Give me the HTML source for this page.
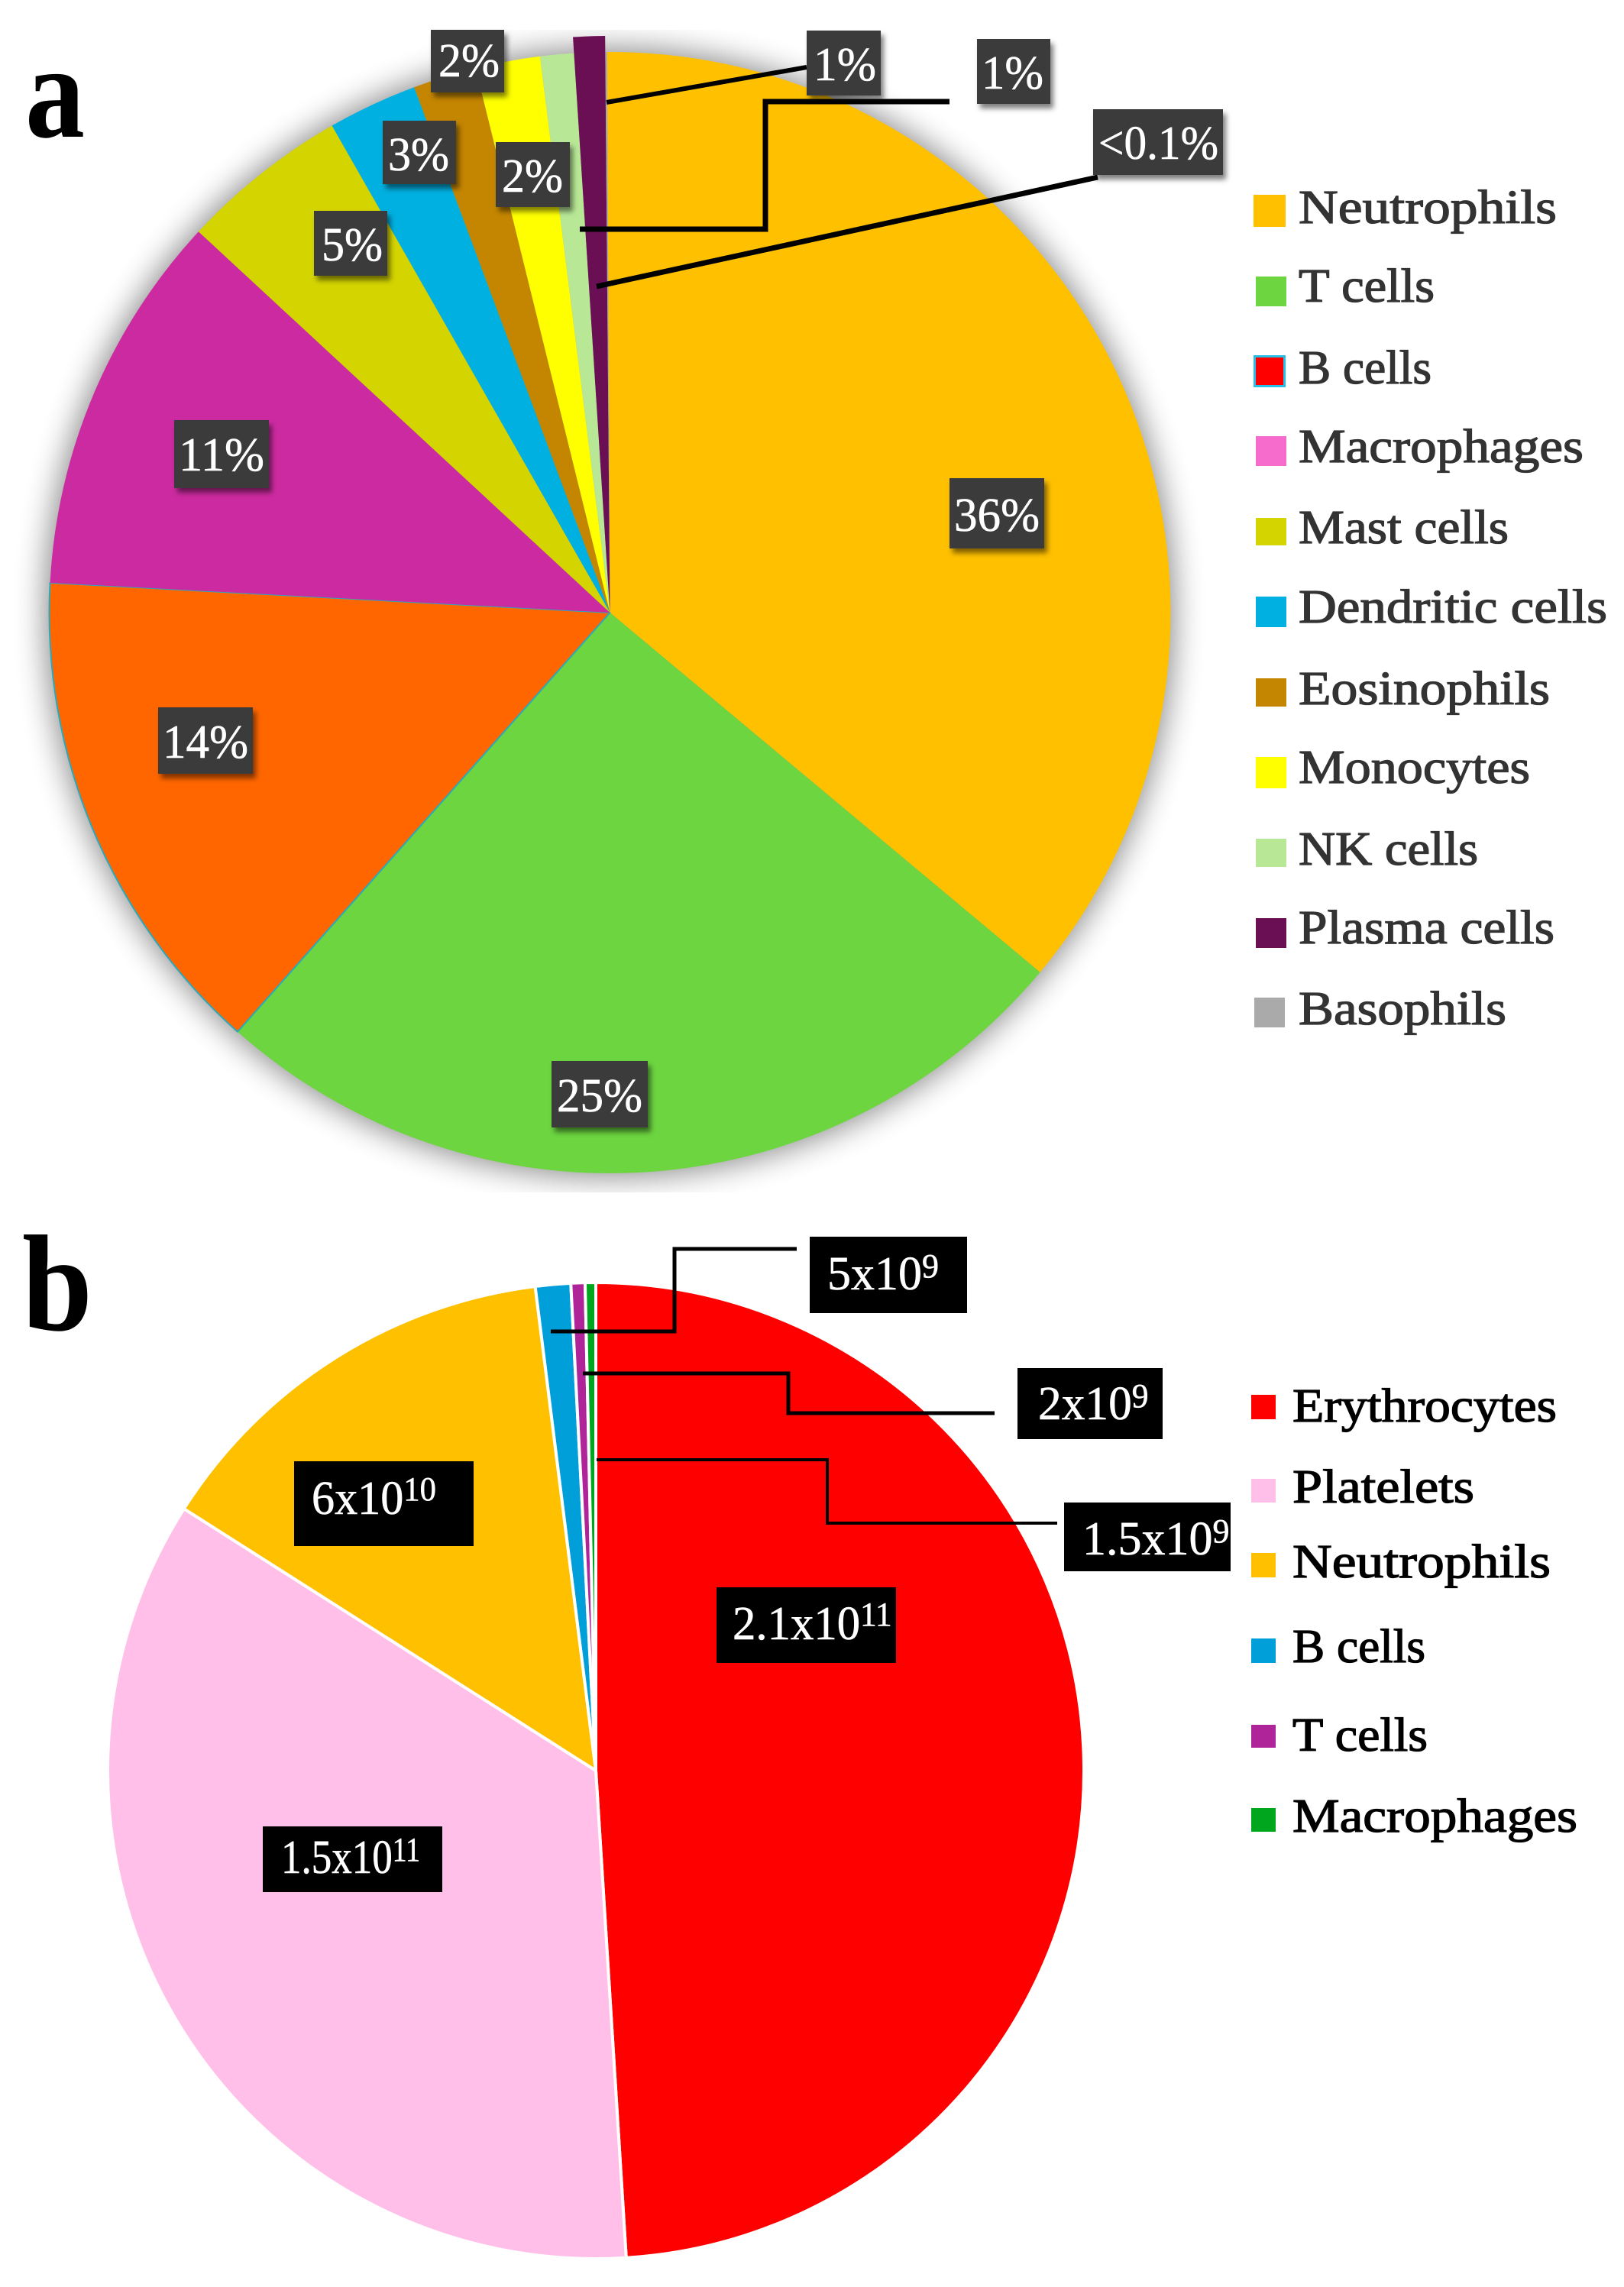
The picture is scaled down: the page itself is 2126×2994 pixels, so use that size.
<!DOCTYPE html>
<html lang="en">
<head>
<meta charset="utf-8">
<title>Immune cell distribution pie charts</title>
<style>
html,body{margin:0;padding:0;background:#fff;}
svg{display:block;}
text{font-family:"Liberation Serif",serif;}
.lbl{font-size:62px;fill:#fff;stroke:#fff;stroke-width:.6px;}
.la{font-size:62px;fill:#333;stroke:#333;stroke-width:1.3px;}
.lb{font-size:62px;fill:#000;stroke:#000;stroke-width:1.3px;}
.box-a{fill:#3a3a3a;filter:url(#label-shadow);}
.box-b{fill:#000;}
.lead{fill:none;stroke:#000;stroke-linejoin:miter;}
</style>
</head>
<body>
<svg id="figure" xmlns="http://www.w3.org/2000/svg" width="2126" height="2994" viewBox="0 0 2126 2994">
  <defs>
    <filter id="pie-shadow" x="-10%" y="-10%" width="120%" height="120%"><feGaussianBlur stdDeviation="20"/></filter>
    <filter id="label-shadow" x="-20%" y="-20%" width="140%" height="140%"><feDropShadow dx="4" dy="6" stdDeviation="3.5" flood-color="#000" flood-opacity=".5"/></filter>
    <clipPath id="shadow-clip"><rect x="0" y="39" width="2126" height="1522"/></clipPath>
  </defs>
  <rect x="0" y="0" width="2126" height="2994" fill="#fff"/>

  <!-- Panel a -->
  <g>
    <text x="33" y="179" font-size="175" font-weight="bold" fill="#000" textLength="78" lengthAdjust="spacingAndGlyphs">a</text>
    <g clip-path="url(#shadow-clip)">
      <circle cx="798" cy="802" r="739" fill="#000" opacity=".45" filter="url(#pie-shadow)"/>
    </g>
    <g id="pie-a"></g>

    <g>
      <polyline class="lead" stroke-width="6" points="794,134 1056,88"/>
      <polyline class="lead" stroke-width="7" points="759,300 1002,300 1002,133 1243,133"/>
      <polyline class="lead" stroke-width="7" points="781,375 1437,232"/>
    </g>

    <g>
      <g><rect class="box-a" x="564" y="39" width="96" height="82"/><text class="lbl" x="574" y="100" textLength="80" lengthAdjust="spacingAndGlyphs">2%</text></g>
      <g><rect class="box-a" x="501" y="158" width="96" height="83"/><text class="lbl" x="508" y="223" textLength="80" lengthAdjust="spacingAndGlyphs">3%</text></g>
      <g><rect class="box-a" x="649" y="186" width="97" height="85"/><text class="lbl" x="657" y="251" textLength="80" lengthAdjust="spacingAndGlyphs">2%</text></g>
      <g><rect class="box-a" x="411" y="276" width="96" height="85"/><text class="lbl" x="421" y="341" textLength="80" lengthAdjust="spacingAndGlyphs">5%</text></g>
      <g><rect class="box-a" x="1056" y="40" width="97" height="85"/><text class="lbl" x="1065" y="105" textLength="82" lengthAdjust="spacingAndGlyphs">1%</text></g>
      <g><rect class="box-a" x="1279" y="51" width="96" height="85"/><text class="lbl" x="1285" y="116" textLength="81" lengthAdjust="spacingAndGlyphs">1%</text></g>
      <g><rect class="box-a" x="1431" y="143" width="170" height="86"/><text class="lbl" x="1438" y="208" textLength="157" lengthAdjust="spacingAndGlyphs">&lt;0.1%</text></g>
      <g><rect class="box-a" x="1243" y="626" width="124" height="92"/><text class="lbl" x="1249" y="695" textLength="112" lengthAdjust="spacingAndGlyphs">36%</text></g>
      <g><rect class="box-a" x="722" y="1389" width="126" height="87"/><text class="lbl" x="729" y="1455" textLength="112" lengthAdjust="spacingAndGlyphs">25%</text></g>
      <g><rect class="box-a" x="207" y="926" width="124" height="87"/><text class="lbl" x="213" y="992" textLength="112" lengthAdjust="spacingAndGlyphs">14%</text></g>
      <g><rect class="box-a" x="228" y="550" width="124" height="89"/><text class="lbl" x="234" y="616" textLength="112" lengthAdjust="spacingAndGlyphs">11%</text></g>
    </g>

    <g>
      <g><rect x="1641" y="255" width="42" height="42" fill="#FFC000"/><text class="la" x="1700" y="292" textLength="338" lengthAdjust="spacingAndGlyphs">Neutrophils</text></g>
      <g><rect x="1644" y="362" width="40" height="39" fill="#6CD540"/><text class="la" x="1700" y="395" textLength="178" lengthAdjust="spacingAndGlyphs">T cells</text></g>
      <g><rect x="1642.5" y="466.5" width="39" height="39" fill="#FF0000" stroke="#25BFE8" stroke-width="3"/><text class="la" x="1700" y="502" textLength="174" lengthAdjust="spacingAndGlyphs">B cells</text></g>
      <g><rect x="1644" y="571" width="40" height="39" fill="#F56CCC"/><text class="la" x="1700" y="605" textLength="373" lengthAdjust="spacingAndGlyphs">Macrophages</text></g>
      <g><rect x="1644" y="678" width="40" height="36" fill="#D4D400"/><text class="la" x="1700" y="711" textLength="275" lengthAdjust="spacingAndGlyphs">Mast cells</text></g>
      <g><rect x="1644" y="781" width="40" height="40" fill="#00B0E0"/><text class="la" x="1700" y="815" textLength="404" lengthAdjust="spacingAndGlyphs">Dendritic cells</text></g>
      <g><rect x="1644" y="888" width="40" height="37" fill="#C48600"/><text class="la" x="1700" y="922" textLength="329" lengthAdjust="spacingAndGlyphs">Eosinophils</text></g>
      <g><rect x="1644" y="991" width="40" height="41" fill="#FFFF00"/><text class="la" x="1700" y="1025" textLength="303" lengthAdjust="spacingAndGlyphs">Monocytes</text></g>
      <g><rect x="1644" y="1098" width="40" height="37" fill="#B8E896"/><text class="la" x="1700" y="1132" textLength="235" lengthAdjust="spacingAndGlyphs">NK cells</text></g>
      <g><rect x="1644" y="1202" width="40" height="39" fill="#6B0F55"/><text class="la" x="1700" y="1235" textLength="335" lengthAdjust="spacingAndGlyphs">Plasma cells</text></g>
      <g><rect x="1642" y="1306" width="40" height="39" fill="#AAAAAA"/><text class="la" x="1700" y="1341" textLength="272" lengthAdjust="spacingAndGlyphs">Basophils</text></g>
    </g>
  </g>

  <!-- Panel b -->
  <g>
    <text x="29" y="1741" font-size="180" font-weight="bold" fill="#000" textLength="92" lengthAdjust="spacingAndGlyphs">b</text>
    <g id="pie-b"></g>

    <g>
      <polyline class="lead" stroke-width="5" points="721,1743 883,1743 883,1635 1043,1635"/>
      <polyline class="lead" stroke-width="5" points="763,1798 1032,1798 1032,1850 1302,1850"/>
      <polyline class="lead" stroke-width="4" points="781,1911 1083,1911 1083,1994 1384,1994"/>
    </g>

    <g>
      <g><rect class="box-b" x="1060" y="1619" width="206" height="100"/><text class="lbl" transform="translate(1083,1688)">5x10<tspan dy="-16" font-size="44">9</tspan></text></g>
      <g><rect class="box-b" x="1332" y="1791" width="190" height="93"/><text class="lbl" transform="translate(1359,1858) scale(.99,1)">2x10<tspan dy="-16" font-size="44">9</tspan></text></g>
      <g><rect class="box-b" x="1393" y="1967" width="218" height="90"/><text class="lbl" transform="translate(1417,2035)">1.5x10<tspan dy="-16" font-size="44">9</tspan></text></g>
      <g><rect class="box-b" x="385" y="1913" width="235" height="111"/><text class="lbl" transform="translate(408,1982) scale(.97,1)">6x10<tspan dy="-18" font-size="44">10</tspan></text></g>
      <g><rect class="box-b" x="938" y="2078" width="235" height="99"/><text class="lbl" transform="translate(959,2146) scale(.98,1)">2.1x10<tspan dy="-18" font-size="44">11</tspan></text></g>
      <g><rect class="box-b" x="344" y="2391" width="235" height="86"/><text class="lbl" transform="translate(368,2452) scale(.855,1)">1.5x10<tspan dy="-16" font-size="44">11</tspan></text></g>
    </g>

    <g>
      <g><rect x="1638" y="1826" width="32" height="32" fill="#FF0000"/><text class="lb" x="1692" y="1861" textLength="346" lengthAdjust="spacingAndGlyphs">Erythrocytes</text></g>
      <g><rect x="1638" y="1936" width="32" height="31" fill="#FFBFE8"/><text class="lb" x="1692" y="1967" textLength="238" lengthAdjust="spacingAndGlyphs">Platelets</text></g>
      <g><rect x="1638" y="2033" width="32" height="32" fill="#FFC000"/><text class="lb" x="1692" y="2065" textLength="338" lengthAdjust="spacingAndGlyphs">Neutrophils</text></g>
      <g><rect x="1638" y="2145" width="32" height="32" fill="#009FD9"/><text class="lb" x="1692" y="2176" textLength="174" lengthAdjust="spacingAndGlyphs">B cells</text></g>
      <g><rect x="1638" y="2258" width="32" height="30" fill="#B0249A"/><text class="lb" x="1692" y="2292" textLength="177" lengthAdjust="spacingAndGlyphs">T cells</text></g>
      <g><rect x="1638" y="2367" width="32" height="31" fill="#00A61E"/><text class="lb" x="1692" y="2398" textLength="373" lengthAdjust="spacingAndGlyphs">Macrophages</text></g>
    </g>
  </g>
</svg>

<script>
// Panel a: share of cells (percent)
const aCategories = ['Neutrophils','T cells','B cells','Macrophages','Mast cells','Dendritic cells','Eosinophils','Monocytes','NK cells','Plasma cells','Basophils'];
const aValues = [36.2,25.5,14.3,11.05,4.86,2.58,1.83,1.86,0.97,0.89,0.05];
const aSliceColors = ['#FFC000','#6CD540','#FF6600','#CC2AA0','#D4D400','#00B0E0','#C48600','#FFFF00','#B8E896','#6B0F55','#AAAAAA'];

// Panel b: absolute cell counts
const bCategories = ['Erythrocytes','Platelets','Neutrophils','B cells','T cells','Macrophages'];
const bValues = [2.1e11,1.5e11,6e10,5e9,2e9,1.5e9];
const bSliceColors = ['#FF0000','#FFBFE8','#FFC000','#009FD9','#B0249A','#00A61E'];

const SVG_NS = 'http://www.w3.org/2000/svg';

function polar(cx, cy, r, deg) {
  const t = deg * Math.PI / 180;
  return [cx + r * Math.sin(t), cy - r * Math.cos(t)];
}

function wedgePath(cx, cy, r, a0, a1) {
  const p0 = polar(cx, cy, r, a0);
  const p1 = polar(cx, cy, r, a1);
  const large = (a1 - a0) > 180 ? 1 : 0;
  return 'M' + cx + ',' + cy + 'L' + p0[0] + ',' + p0[1] + 'A' + r + ',' + r + ' 0 ' + large + ' 1 ' + p1[0] + ',' + p1[1] + 'Z';
}

function drawPie(group, categories, values, colors, opts) {
  const total = values.reduce(function (s, v) { return s + v; }, 0);
  let angle = opts.start;
  values.forEach(function (v, i) {
    const span = v / total * 360;
    const cat = categories[i];
    const r = cat === opts.explodedCategory ? opts.explodedRadius : opts.radius;
    const el = document.createElementNS(SVG_NS, 'path');
    el.setAttribute('d', wedgePath(opts.cx, opts.cy, r, angle, angle + span));
    el.setAttribute('fill', colors[i]);
    const style = opts.strokeFor(cat);
    if (style) {
      el.setAttribute('stroke', style.color);
      el.setAttribute('stroke-width', style.width);
      el.setAttribute('stroke-linejoin', 'round');
    }
    
    
    group.appendChild(el);
    angle += span;
  });
}

drawPie(document.getElementById('pie-a'), aCategories, aValues, aSliceColors, {
  cx: 798.5, cy: 802, radius: 734, start: -0.3,
  explodedCategory: 'Plasma cells', explodedRadius: 755,
  strokeFor: function (cat) { return cat === 'B cells' ? { color: '#2AA9BC', width: 2 } : null; }
});

drawPie(document.getElementById('pie-b'), bCategories, bValues, bSliceColors, {
  cx: 780, cy: 2318, radius: 639, start: 0,
  explodedCategory: null, explodedRadius: 0,
  strokeFor: function () { return { color: '#FFFFFF', width: 4 }; }
});
</script>
</body>
</html>
